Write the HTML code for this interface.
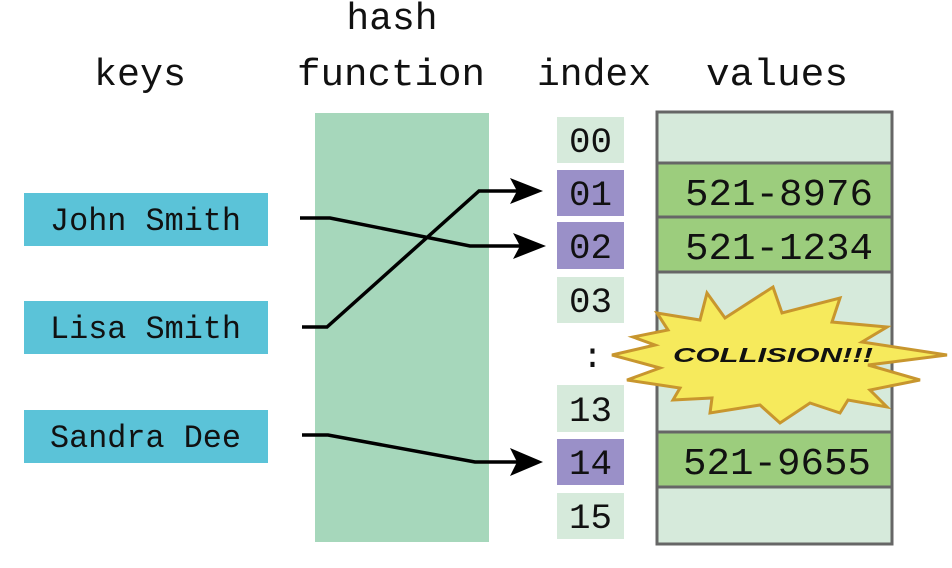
<!DOCTYPE html>
<html><head><meta charset="utf-8"><style>
html,body{margin:0;padding:0;background:#fff;}
svg{display:block;}
text{font-family:"Liberation Mono","DejaVu Sans Mono",monospace;fill:#111;}
</style></head><body>
<svg width="952" height="568" viewBox="0 0 952 568" xmlns="http://www.w3.org/2000/svg">
<text x="392" y="29" font-size="38" text-anchor="middle">hash</text>
<text x="297" y="85" font-size="38" textLength="188" lengthAdjust="spacingAndGlyphs">function</text>
<text x="94" y="85" font-size="38" textLength="92" lengthAdjust="spacingAndGlyphs">keys</text>
<text x="537" y="85" font-size="38" textLength="114" lengthAdjust="spacingAndGlyphs">index</text>
<text x="706" y="85" font-size="38" textLength="142" lengthAdjust="spacingAndGlyphs">values</text>

<rect x="315" y="113" width="174" height="429" fill="#a6d7bb"/>

<rect x="24" y="193" width="244" height="53" fill="#5bc3d8"/>
<rect x="24" y="301" width="244" height="53" fill="#5bc3d8"/>
<rect x="24" y="410" width="244" height="53" fill="#5bc3d8"/>
<text x="50" y="230" font-size="32" textLength="191" lengthAdjust="spacingAndGlyphs">John Smith</text>
<text x="50" y="338" font-size="32" textLength="191" lengthAdjust="spacingAndGlyphs">Lisa Smith</text>
<text x="50" y="447" font-size="32" textLength="191" lengthAdjust="spacingAndGlyphs">Sandra Dee</text>

<g font-size="35">
<rect x="557" y="117" width="67" height="46" fill="#d6eadb"/><text x="569" y="152" textLength="43" lengthAdjust="spacingAndGlyphs">00</text>
<rect x="557" y="170" width="67" height="46" fill="#9a90c8"/><text x="569" y="205" textLength="43" lengthAdjust="spacingAndGlyphs">01</text>
<rect x="557" y="222" width="67" height="47" fill="#9a90c8"/><text x="569" y="258" textLength="43" lengthAdjust="spacingAndGlyphs">02</text>
<rect x="557" y="277" width="67" height="46" fill="#d6eadb"/><text x="569" y="312" textLength="43" lengthAdjust="spacingAndGlyphs">03</text>
<text x="582" y="367">:</text>
<rect x="557" y="385" width="67" height="47" fill="#d6eadb"/><text x="569" y="421" textLength="43" lengthAdjust="spacingAndGlyphs">13</text>
<rect x="557" y="439" width="67" height="46" fill="#9a90c8"/><text x="569" y="474" textLength="43" lengthAdjust="spacingAndGlyphs">14</text>
<rect x="557" y="493" width="67" height="46" fill="#d6eadb"/><text x="569" y="528" textLength="43" lengthAdjust="spacingAndGlyphs">15</text>
</g>

<rect x="657" y="112" width="235" height="432" fill="#d6eadb" stroke="#666" stroke-width="3"/>
<g stroke="#666" stroke-width="3">
<rect x="657" y="163" width="235" height="54" fill="#9ccd7d"/>
<rect x="657" y="217" width="235" height="55" fill="#9ccd7d"/>
<rect x="657" y="432" width="235" height="55" fill="#9ccd7d"/>
</g>
<g font-size="38">
<text x="685" y="205" textLength="188" lengthAdjust="spacingAndGlyphs">521-8976</text>
<text x="685" y="259" textLength="188" lengthAdjust="spacingAndGlyphs">521-1234</text>
<text x="683" y="474" textLength="188" lengthAdjust="spacingAndGlyphs">521-9655</text>
</g>

<g fill="none" stroke="#000" stroke-width="3.5">
<polyline points="300,218 330,218 470,246 520,246"/>
<polyline points="302,327 327,327 479,191 518,191"/>
<polyline points="302,435 328,435 475,462 518,462"/>
</g>
<g fill="#000">
<polygon points="546,246 513,233 520,246 513,259"/>
<polygon points="543,191 510,178 517,191 510,204"/>
<polygon points="543,462 510,448 517,462 510,476"/>
</g>

<polygon fill="#f6ea5c" stroke="#c8962e" stroke-width="3" stroke-linejoin="miter"
points="707,293 725,318 773,287 782,313 840,298 832,322 887,327 862,342 947,355 868,365 920,380 870,390 887,407 848,400 840,413 810,403 780,423 760,405 710,413 712,398 673,400 680,388 627,380 660,368 612,355 655,345 633,337 668,330 657,313 700,320"/>
<text x="773" y="362" font-size="20" font-weight="bold" font-style="italic" text-anchor="middle" textLength="200" lengthAdjust="spacingAndGlyphs" style="font-family:'Liberation Sans',sans-serif">COLLISION!!!</text>
</svg>
</body></html>
